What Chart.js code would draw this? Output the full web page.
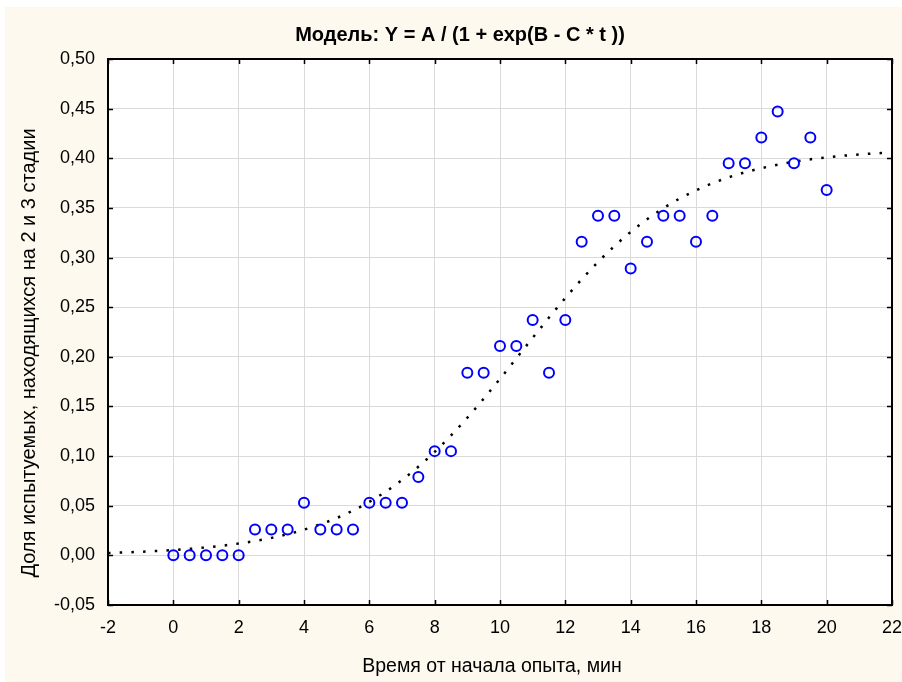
<!DOCTYPE html>
<html>
<head>
<meta charset="utf-8">
<script src="https://cdn.jsdelivr.net/npm/chart.js@4.4.1/dist/chart.umd.min.js"></script>
<style>
  html, body { margin: 0; padding: 0; background: #ffffff; }
  #wrap { width: 902px; height: 682px; }
</style>
</head>
<body>
<div id="wrap"><canvas id="chart" width="902" height="682"></canvas></div>
<script>
// Observed share of subjects in stages 2 and 3, sampled every half minute
const timeMin = [0, 0.5, 1, 1.5, 2, 2.5, 3, 3.5, 4, 4.5, 5, 5.5, 6, 6.5, 7, 7.5, 8, 8.5, 9, 9.5,
                 10, 10.5, 11, 11.5, 12, 12.5, 13, 13.5, 14, 14.5, 15, 15.5, 16, 16.5, 17, 17.5,
                 18, 18.5, 19, 19.5, 20];
const shareObserved = [0, 0, 0, 0, 0, 0.026, 0.026, 0.026, 0.053, 0.026, 0.026, 0.026, 0.053, 0.053,
                       0.053, 0.079, 0.105, 0.105, 0.184, 0.184, 0.211, 0.211, 0.237, 0.184, 0.237,
                       0.316, 0.342, 0.342, 0.289, 0.316, 0.342, 0.342, 0.316, 0.342, 0.395, 0.395,
                       0.421, 0.447, 0.395, 0.421, 0.368];

// Fitted logistic curve, read at each whole minute
const fitTime = [-2, -1, 0, 1, 2, 3, 4, 5, 6, 7, 8, 9, 10, 11, 12, 13, 14, 15, 16, 17, 18, 19, 20, 21, 22];
const fitShare = [0.0024, 0.0036, 0.0054, 0.0080, 0.0119, 0.0176, 0.0259, 0.0376, 0.0539, 0.0759,
                  0.1042, 0.1386, 0.1778, 0.2191, 0.2593, 0.2955, 0.3258, 0.3497, 0.3677, 0.3808,
                  0.3900, 0.3965, 0.4009, 0.4039, 0.4059];

const chartTitle = 'Модель: Y = A / (1 + exp(B - C * t ))';
const xTitle = 'Время от начала опыта, мин';
const yTitle = 'Доля испытуемых, находящихся на 2 и 3 стадии';

const FONT = '"Liberation Sans", Arial, sans-serif';

const observedPoints = timeMin.map((t, i) => ({ x: t, y: shareObserved[i] }));
const fitPoints = fitTime.map((t, i) => ({ x: t, y: fitShare[i] }));

// Background panel, white plot area, black frame with inward ticks and the axis titles
const decor = {
  id: 'decor',
  beforeDraw(chart) {
    const { ctx, chartArea: a } = chart;
    ctx.save();
    ctx.fillStyle = '#ffffff';
    ctx.fillRect(0, 0, chart.width, chart.height);
    ctx.fillStyle = '#fdf9ee';
    ctx.fillRect(5, 7, chart.width - 5, chart.height - 7);
    ctx.fillStyle = '#ffffff';
    ctx.fillRect(a.left, a.top, a.right - a.left, a.bottom - a.top);
    ctx.restore();
  },
  afterDraw(chart) {
    const { ctx, chartArea: a } = chart;
    const xs = chart.scales.x, ys = chart.scales.y;
    ctx.save();
    ctx.strokeStyle = '#000000';
    ctx.lineWidth = 1.5;
    ctx.beginPath();
    xs.ticks.forEach(tk => {
      const px = Math.round(xs.getPixelForValue(tk.value)) + 0.5;
      ctx.moveTo(px, a.top); ctx.lineTo(px, a.top + 5);
      ctx.moveTo(px, a.bottom); ctx.lineTo(px, a.bottom - 5);
    });
    ys.ticks.forEach(tk => {
      const py = Math.round(ys.getPixelForValue(tk.value)) + 0.5;
      ctx.moveTo(a.left, py); ctx.lineTo(a.left + 5, py);
      ctx.moveTo(a.right, py); ctx.lineTo(a.right - 5, py);
    });
    ctx.stroke();
    ctx.lineWidth = 2;
    ctx.strokeRect(a.left, a.top, a.right - a.left, a.bottom - a.top);

    ctx.fillStyle = '#000000';
    ctx.textAlign = 'center';
    ctx.textBaseline = 'middle';
    ctx.font = '19.5px ' + FONT;
    ctx.fillText(xTitle, 492, 667);
    ctx.font = '20px ' + FONT;
    ctx.translate(29, 353);
    ctx.rotate(-Math.PI / 2);
    ctx.fillText(yTitle, 0, 0);
    ctx.restore();
  }
};

new Chart(document.getElementById('chart'), {
  type: 'scatter',
  data: {
    datasets: [
      {
        label: 'Наблюдения',
        data: observedPoints,
        showLine: false,
        pointStyle: 'circle',
        pointRadius: 5,
        pointHoverRadius: 5,
        pointBorderWidth: 2,
        borderColor: '#0000ff',
        backgroundColor: 'rgba(0,0,0,0)',
        order: 1
      },
      {
        label: 'Модель',
        data: fitPoints,
        showLine: true,
        pointRadius: 0,
        borderColor: '#000000',
        borderWidth: 2.5,
        borderDash: [2.5, 9.2],
        borderCapStyle: 'butt',
        cubicInterpolationMode: 'monotone',
        fill: false,
        order: 2
      }
    ]
  },
  options: {
    responsive: false,
    animation: false,
    devicePixelRatio: 1,
    layout: { padding: { left: 28, right: 10, top: 0, bottom: 0 } },
    plugins: {
      legend: { display: false },
      tooltip: { enabled: false },
      title: {
        display: true,
        text: chartTitle,
        color: '#000000',
        font: { family: FONT, size: 20, weight: 'bold' },
        padding: { top: 23, bottom: 12 }
      }
    },
    scales: {
      x: {
        type: 'linear',
        min: -2,
        max: 22,
        afterFit(scale) {
          scale.height = 77;
          scale.paddingLeft = 0;
          scale.paddingRight = 0;
        },
        ticks: {
          stepSize: 2,
          color: '#000000',
          font: { family: FONT, size: 18 },
          padding: 12,
          maxRotation: 0,
          callback: v => String(v).replace('.', ',')
        },
        grid: { color: '#dadada', lineWidth: 1, drawTicks: false },
        border: { display: false }
      },
      y: {
        type: 'linear',
        min: -0.05,
        max: 0.5,
        afterFit(scale) {
          scale.width = 80;
          scale.paddingTop = 0;
          scale.paddingBottom = 0;
        },
        ticks: {
          stepSize: 0.05,
          color: '#000000',
          font: { family: FONT, size: 18 },
          padding: 13,
          callback: v => v.toFixed(2).replace('.', ',')
        },
        grid: { color: '#dadada', lineWidth: 1, drawTicks: false },
        border: { display: false }
      }
    }
  },
  plugins: [decor]
});
</script>
</body>
</html>
